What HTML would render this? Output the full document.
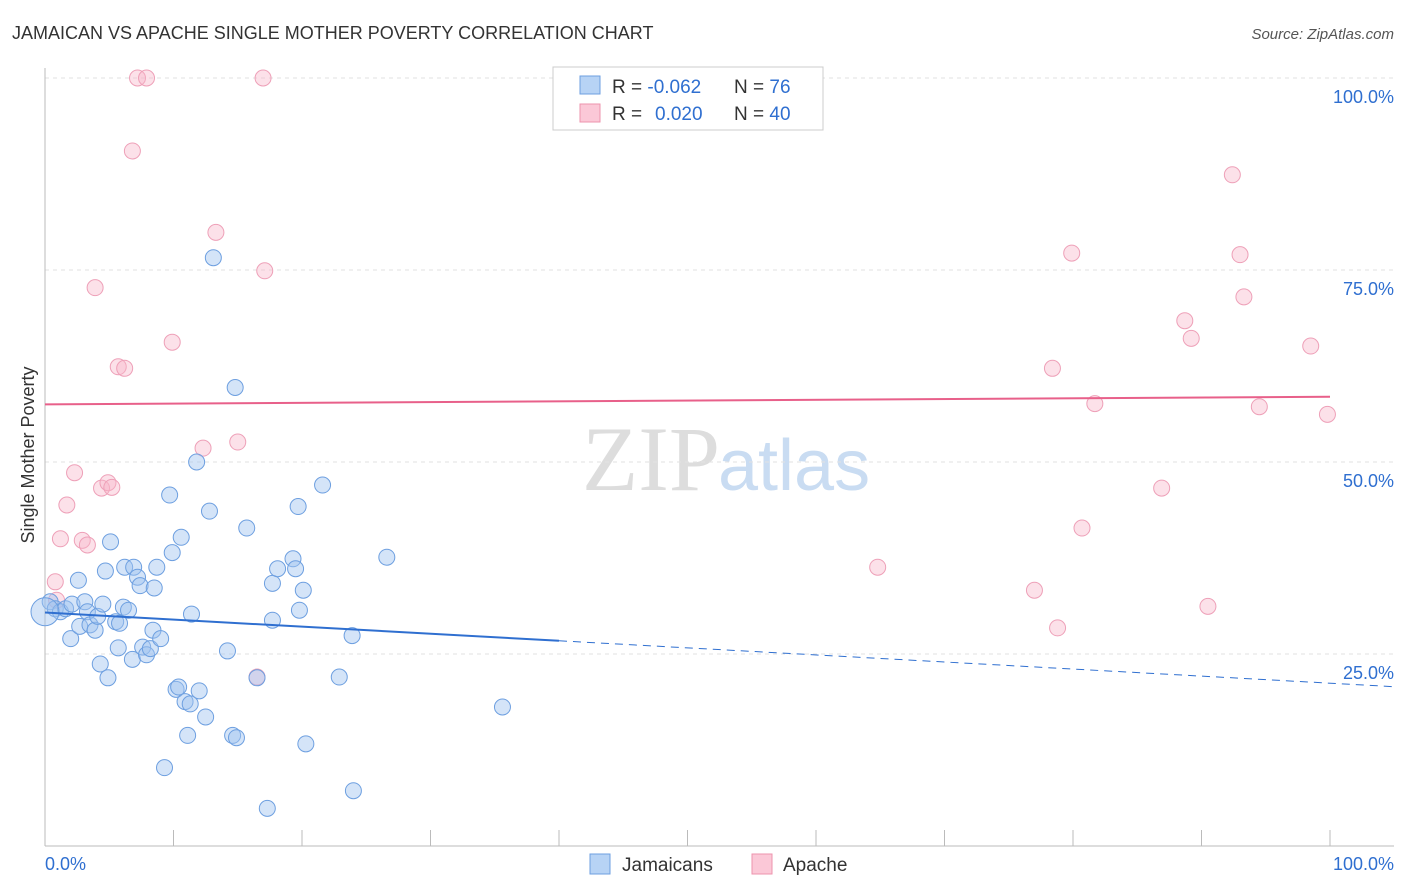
<!DOCTYPE html>
<html><head><meta charset="utf-8"><style>
body{margin:0;background:#fff;font-family:"Liberation Sans",sans-serif;}
#wrap{position:relative;width:1406px;height:892px;overflow:hidden;}
</style></head><body>
<div id="wrap">
<svg id="svg" width="1406" height="892" xmlns="http://www.w3.org/2000/svg">
<text x="12" y="39" font-size="18" fill="#333">JAMAICAN VS APACHE SINGLE MOTHER POVERTY CORRELATION CHART</text>
<text x="1394" y="39" font-size="15" fill="#555" font-style="italic" text-anchor="end">Source: ZipAtlas.com</text>
<text x="720" y="490" font-size="92" fill="#ddd" font-family="Liberation Serif,serif" text-anchor="end">ZIP</text>
<text x="718" y="490" font-size="72" fill="#c9dcf2">atlas</text>
<text transform="translate(34,455) rotate(-90)" font-size="18" fill="#333" text-anchor="middle">Single Mother Poverty</text>
<g id="grid"></g><g id="pts"></g><g id="trend"></g>
<g>
<rect x="553" y="67" width="270" height="63" fill="#fff" stroke="#ccc"/>
<rect x="580" y="76" width="20" height="18" fill="#b7d3f5" stroke="#6d9fe0"/>
<rect x="580" y="104" width="20" height="18" fill="#fbc8d7" stroke="#ee93ad"/>
<text x="612" y="93" font-size="19" fill="#333">R = <tspan fill="#2f6fd0">-0.062</tspan><tspan x="734">N = </tspan><tspan fill="#2f6fd0">76</tspan></text>
<text x="612" y="120" font-size="19" fill="#333">R = <tspan fill="#2f6fd0" x="655">0.020</tspan><tspan x="734">N = </tspan><tspan fill="#2f6fd0">40</tspan></text>
</g>
<g>
<rect x="590" y="854" width="20" height="20" fill="#b7d3f5" stroke="#6d9fe0"/>
<text x="622" y="871" font-size="19" fill="#333">Jamaicans</text>
<rect x="752" y="854" width="20" height="20" fill="#fbc8d7" stroke="#ee93ad"/>
<text x="783" y="871" font-size="19" fill="#333">Apache</text>
</g>
<text x="45" y="870" font-size="18" fill="#2f6fd0">0.0%</text>
<text x="1394" y="870" font-size="18" fill="#2f6fd0" text-anchor="end">100.0%</text>
</svg></div>
<script>
const yTicks=[100,75,50,25];
const yTickLabels=["100.0%","75.0%","50.0%","25.0%"];
const jamX=[0.4,0.8,1.2,1.6,2,2.1,2.6,2.7,3.1,3.3,3.5,3.9,4.1,4.3,4.5,4.7,4.9,5.1,5.5,5.7,5.8,6.1,6.2,6.5,6.8,6.9,7.2,7.4,7.6,7.9,8.2,8.4,8.5,8.7,9,9.3,9.7,9.9,10.2,10.4,10.6,10.9,11.1,11.3,11.4,11.8,12,12.5,12.8,13.1,14.2,14.6,14.9,14.8,15.7,16.5,17.3,17.7,17.7,18.1,19.3,19.5,19.7,19.8,20.1,20.3,21.6,22.9,23.9,24.0,26.6,35.6,0];
const jamY=[31.8,30.9,30.5,30.9,27,31.5,34.6,28.6,31.8,30.5,28.8,28.1,29.9,23.7,31.5,35.8,21.9,39.6,29.2,25.8,29.0,31.1,36.3,30.7,24.3,36.3,35,33.9,25.9,24.9,25.7,28.1,33.6,36.3,27,10.2,45.7,38.2,20.4,20.7,40.2,18.8,14.4,18.5,30.2,50,20.2,16.8,43.6,76.6,25.4,14.4,14.1,59.7,41.4,21.9,4.9,29.4,34.2,36.1,37.4,36.1,44.2,30.7,33.3,13.3,47,22,27.4,7.2,37.6,18.1,30.5];
const apaX=[0.8,0.9,1.2,1.7,2.3,2.9,3.3,3.9,4.4,4.9,5.2,5.7,6.2,6.8,7.2,7.9,9.9,12.3,13.3,15,16.5,16.97,17.1,64.8,77,78.4,78.8,79.9,80.7,81.7,86.9,88.7,89.2,90.5,92.4,93,93.3,94.5,98.5,99.8];
const apaY=[34.4,32,40,44.4,48.6,39.8,39.2,72.7,46.6,47.3,46.7,62.4,62.2,90.5,100,100,65.6,51.8,79.9,52.6,22,100,74.9,36.3,33.3,62.2,28.4,77.2,41.4,57.6,46.6,68.4,66.1,31.2,87.4,77,71.5,57.2,65.1,56.2];
const jamTrend=[30.4,21.2];
const apaTrend=[57.5,58.5];
const L=45,R=1330,T=78,B=846;
const xs=v=>L+(R-L)*v/100, ys=v=>B-(B-T)*v/100;
const NS="http://www.w3.org/2000/svg";
function mk(tag,attrs,parent){const e=document.createElementNS(NS,tag);for(const k in attrs)e.setAttribute(k,attrs[k]);parent.appendChild(e);return e;}
const grid=document.getElementById('grid');
yTicks.forEach((t,i)=>{
 const ln=mk('line',{x1:L,x2:1394,y1:ys(t),y2:ys(t),stroke:'#e2e2e2','stroke-dasharray':'4,4'},grid);
 
 
 const tx=mk('text',{x:1394,y:ys(t)+25,'font-size':18,fill:'#2f6fd0','text-anchor':'end'},grid);
 tx.textContent=yTickLabels[i];
 
 
});
const ax=mk('line',{x1:L,x2:L,y1:68,y2:B,stroke:'#bbb'},grid);


const bx=mk('line',{x1:L,x2:1394,y1:B,y2:B,stroke:'#bbb'},grid);


for(let i=1;i<=10;i++){const t=mk('line',{x1:xs(i*10),x2:xs(i*10),y1:830,y2:B,stroke:'#bbb'},grid);
 
 }
const pts=document.getElementById('pts');
apaX.forEach((x,i)=>{const c=mk('circle',{cx:xs(x),cy:ys(apaY[i]),r:8,fill:'rgba(248,180,200,0.4)',stroke:'#eea0b8','stroke-width':1},pts);
 
 });
jamX.forEach((x,i)=>{const c=mk('circle',{cx:xs(x),cy:ys(jamY[i]),r:i==jamX.length-1?14:8,fill:'rgba(160,196,240,0.45)',stroke:'#6d9fe0','stroke-width':1},pts);
 
 });
const tr=document.getElementById('trend');
const jy=x=>jamTrend[0]+(jamTrend[1]-jamTrend[0])*x/100;
const t1=mk('line',{x1:xs(0),y1:ys(jy(0)),x2:xs(40),y2:ys(jy(40)),stroke:'#2f6fd0','stroke-width':2},tr);


const t2=mk('line',{x1:xs(40),y1:ys(jy(40)),x2:xs(105),y2:ys(jy(105)),stroke:'#2f6fd0','stroke-width':1,'stroke-dasharray':'8,6'},tr);


const t3=mk('line',{x1:xs(0),y1:ys(apaTrend[0]),x2:xs(100),y2:ys(apaTrend[1]),stroke:'#e8608a','stroke-width':2},tr);


</script>
</body></html>
